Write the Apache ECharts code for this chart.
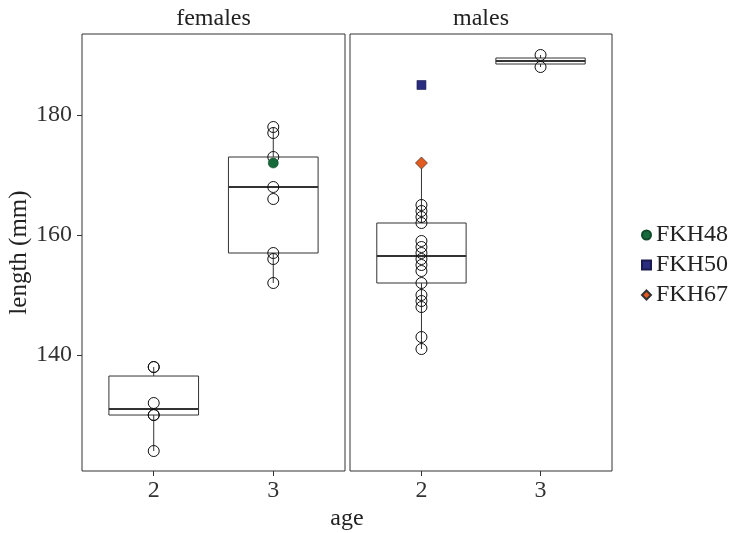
<!DOCTYPE html>
<html>
<head>
<meta charset="utf-8">
<script src="https://cdn.jsdelivr.net/npm/echarts@6/dist/echarts.min.js"></script>
<style>
html,body{margin:0;padding:0;background:#fff;}
#chart{width:730px;height:533px;}
</style>
</head>
<body>
<div id="chart"></div>
<script>
// ---- data ----
const panels = ['females', 'males'];
const ageLabels = ['2', '3'];
const yTicks = [140, 160, 180];

// box statistics [min, Q1, median, Q3, max] per age
const femalesBox = [[124, 130, 131, 136.5, 138], [152, 157, 168, 173, 178]];
const malesBox = [[141, 152, 156.5, 162, 172], [188, 188.5, 189, 189.5, 190]];

// individual (unlabelled) fish
const femalesAge2 = [124, 130, 130, 132, 138, 138];
const femalesAge3 = [152, 156, 157, 166, 168, 173, 177, 178];
const malesAge2 = [141, 143, 148, 149, 150, 152, 154, 155, 156, 157, 158, 159, 162, 163, 164, 165];
const malesAge3 = [188, 190];

// labelled fish: [panelIndex, ageIndex, length]
const fkh48 = [0, 1, 172];
const fkh50 = [1, 0, 185];
const fkh67 = [1, 0, 172];

// ---- chart ----
const serif = 'Liberation Serif';
const yMin = 120.67, yMax = 193.5;

function boxData(stats) {
  return stats.map((s, i) => [i + 1].concat(s));
}
function pts(arr, ageIdx) {
  return arr.map(v => [ageIdx + 1, v]);
}

function renderBox(params, api) {
  const x = api.value(0);
  const mn = api.value(1), q1 = api.value(2), md = api.value(3), q3 = api.value(4), mx = api.value(5);
  const hw = 0.375;
  const pMin = api.coord([x, mn]), pQ1 = api.coord([x, q1]), pQ3 = api.coord([x, q3]), pMax = api.coord([x, mx]);
  const tl = api.coord([x - hw, q3]), br = api.coord([x + hw, q1]);
  const ml = api.coord([x - hw, md]), mr = api.coord([x + hw, md]);
  const st = {stroke: '#333', lineWidth: 1, fill: null};
  return {
    type: 'group',
    children: [
      {type: 'line', shape: {x1: pMin[0], y1: pMin[1], x2: pQ1[0], y2: pQ1[1]}, style: st},
      {type: 'line', shape: {x1: pQ3[0], y1: pQ3[1], x2: pMax[0], y2: pMax[1]}, style: st},
      {type: 'rect', shape: {x: tl[0], y: tl[1], width: br[0] - tl[0], height: br[1] - tl[1]}, style: {stroke: '#333', lineWidth: 1, fill: '#fff'}},
      {type: 'line', shape: {x1: ml[0], y1: ml[1], x2: mr[0], y2: mr[1]}, style: {stroke: '#333', lineWidth: 2}}
    ]
  };
}

const chart = echarts.init(document.getElementById('chart'), null, {renderer: 'canvas'});

const grids = [
  {left: 82, top: 34, width: 263, height: 437, show: true, borderColor: '#333', borderWidth: 1, backgroundColor: 'transparent'},
  {left: 350, top: 34, width: 262, height: 437, show: true, borderColor: '#333', borderWidth: 1, backgroundColor: 'transparent'}
];

const xAxes = [0, 1].map(i => ({
  type: 'value', gridIndex: i, min: 0.4, max: 2.6,
  splitLine: {show: false},
  axisLine: {show: false},
  axisTick: {show: true, length: 5, customValues: [1, 2], lineStyle: {color: '#333'}},
  axisLabel: {show: true, customValues: [1, 2], margin: 8, fontFamily: serif, fontSize: 24, color: '#333',
    formatter: v => ageLabels[Math.round(v) - 1]}
}));

const yAxes = [0, 1].map(i => ({
  type: 'value', gridIndex: i, min: yMin, max: yMax,
  splitLine: {show: false},
  axisLine: {show: false},
  axisTick: {show: i === 0, length: 5, customValues: yTicks, lineStyle: {color: '#333'}},
  axisLabel: {show: i === 0, customValues: yTicks, margin: 10, fontFamily: serif, fontSize: 24, color: '#333'},
  name: i === 0 ? 'length (mm)' : '',
  nameLocation: 'middle', nameRotate: 90, nameGap: 46,
  nameTextStyle: {fontFamily: serif, fontSize: 25, color: '#222'}
}));

const hollow = {color: 'rgba(0,0,0,0)', borderColor: '#111', borderWidth: 1, opacity: 1};

const series = [
  {type: 'custom', xAxisIndex: 0, yAxisIndex: 0, renderItem: renderBox, data: boxData(femalesBox), encode: {x: 0, y: [1, 2, 3, 4, 5]}, silent: true, z: 1},
  {type: 'custom', xAxisIndex: 1, yAxisIndex: 1, renderItem: renderBox, data: boxData(malesBox), encode: {x: 0, y: [1, 2, 3, 4, 5]}, silent: true, z: 1},
  {type: 'scatter', xAxisIndex: 0, yAxisIndex: 0, symbol: 'circle', symbolSize: 11, itemStyle: hollow, z: 3,
    data: pts(femalesAge2, 0).concat(pts(femalesAge3, 1))},
  {type: 'scatter', xAxisIndex: 1, yAxisIndex: 1, symbol: 'circle', symbolSize: 11, itemStyle: hollow, z: 3,
    data: pts(malesAge2, 0).concat(pts(malesAge3, 1))},
  {name: 'FKH48', type: 'scatter', xAxisIndex: fkh48[0], yAxisIndex: fkh48[0], symbol: 'circle', symbolSize: 10, z: 4,
    itemStyle: {color: '#16693a', borderColor: '#0f4a28', borderWidth: 0.6, opacity: 1}, data: [[fkh48[1] + 1, fkh48[2]]]},
  {name: 'FKH50', type: 'scatter', xAxisIndex: fkh50[0], yAxisIndex: fkh50[0], symbol: 'rect', symbolSize: 9, z: 4,
    itemStyle: {color: '#2a2d7e', borderColor: '#1a1a50', borderWidth: 0.6, opacity: 1}, data: [[fkh50[1] + 1, fkh50[2]]]},
  {name: 'FKH67', type: 'scatter', xAxisIndex: fkh67[0], yAxisIndex: fkh67[0], symbol: 'diamond', symbolSize: 12, z: 4,
    itemStyle: {color: '#e35b1e', borderColor: '#333', borderWidth: 0.7, opacity: 1}, data: [[fkh67[1] + 1, fkh67[2]]]}
];

chart.setOption({
  animation: false,
  backgroundColor: '#fff',
  grid: grids,
  xAxis: xAxes,
  yAxis: yAxes,
  legend: {
    orient: 'vertical', left: 636, top: 218, itemWidth: 9, itemHeight: 9, itemGap: 6,
    textStyle: {fontFamily: serif, fontSize: 24, color: '#222'},
    data: [{name: 'FKH48', icon: 'circle'}, {name: 'FKH50', icon: 'rect'}, {name: 'FKH67', icon: 'diamond'}]
  },
  graphic: [
    {type: 'text', x: 82 + 263 / 2, y: 19, style: {text: panels[0], font: '24px "Liberation Serif"', fill: '#222', textAlign: 'center', textVerticalAlign: 'middle'}},
    {type: 'text', x: 350 + 262 / 2, y: 19, style: {text: panels[1], font: '24px "Liberation Serif"', fill: '#222', textAlign: 'center', textVerticalAlign: 'middle'}},
    {type: 'text', x: 347, y: 519, style: {text: 'age', font: '24px "Liberation Serif"', fill: '#222', textAlign: 'center', textVerticalAlign: 'middle'}}
  ],
  series: series
});
</script>
</body>
</html>
